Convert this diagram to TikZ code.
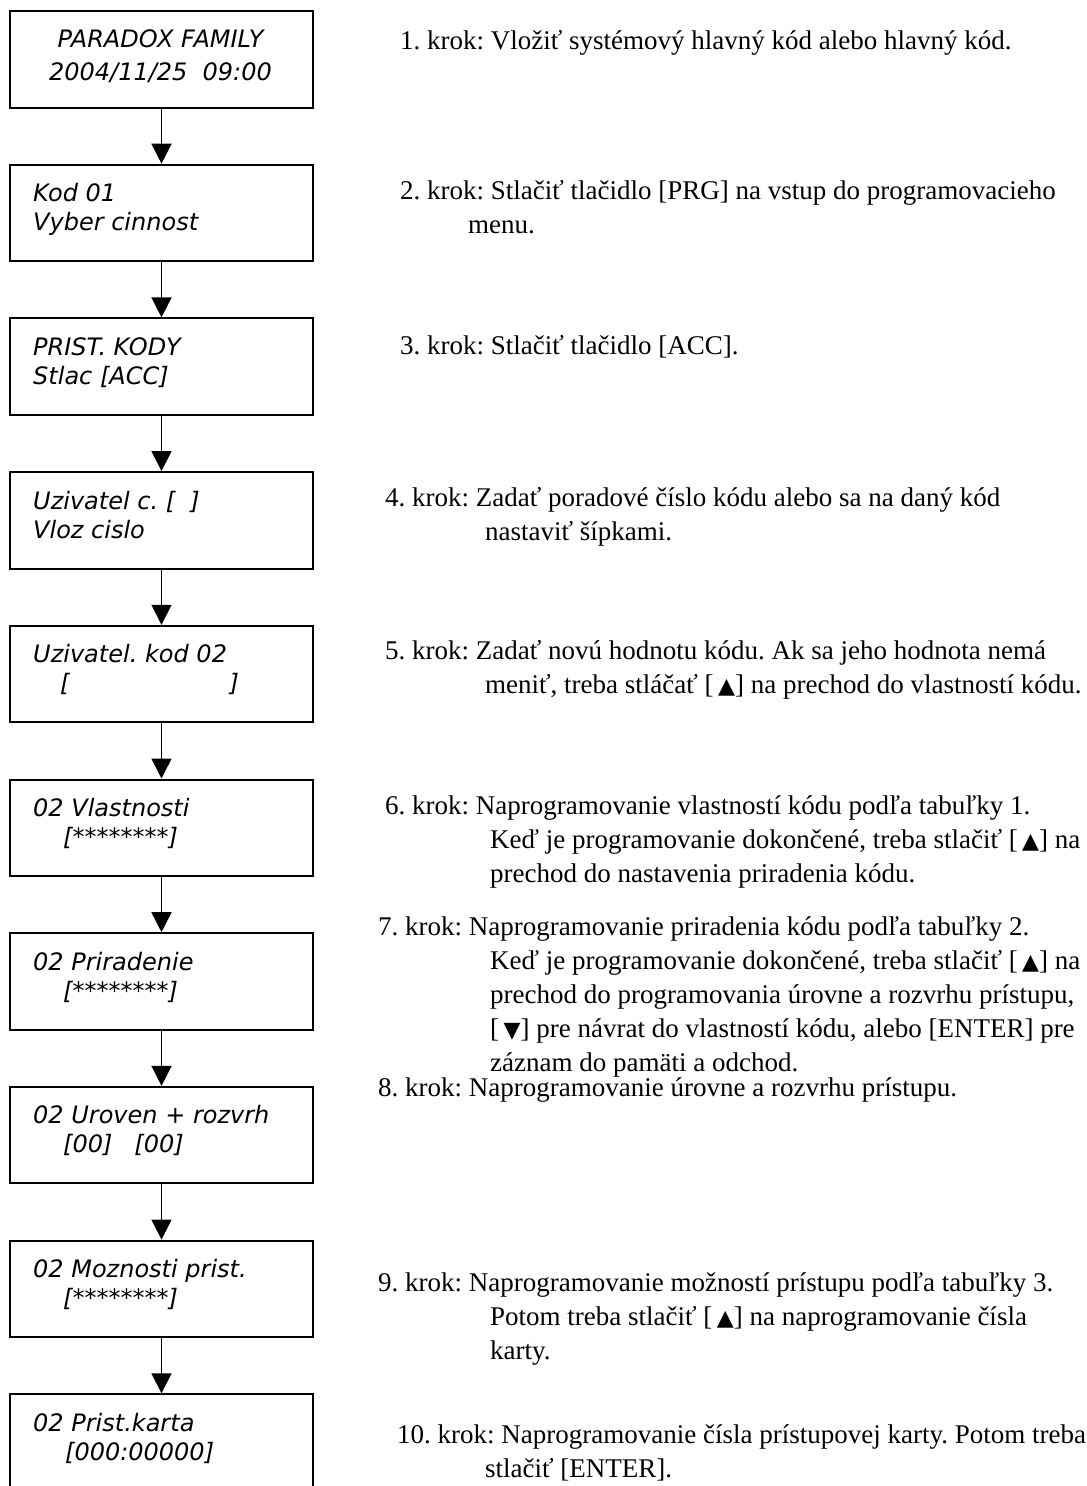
\documentclass[tikz,border=0pt]{standalone}
\usepackage{fontspec}
\setmainfont{Liberation Serif}
\newfontfamily\boxfont{DejaVu Sans}
\newfontfamily\symfont{DejaVu Sans}
\usetikzlibrary{arrows.meta}
\newcommand{\up}{[\,{\symfont\fontsize{22pt}{22pt}\selectfont ▲}]}
\newcommand{\dn}{[\,{\symfont\fontsize{22pt}{22pt}\selectfont ▼}]}
\tikzset{
  lcd/.style={draw=black, line width=2pt, minimum width=303pt, minimum height=96.5pt, inner sep=0pt, anchor=north west},
  lcdtext/.style={anchor=base west, inner sep=0pt, font=\boxfont\itshape\fontsize{24pt}{30pt}\selectfont},
  lcdmid/.style={anchor=base, inner sep=0pt, font=\boxfont\itshape\fontsize{24pt}{30pt}\selectfont},
  steptext/.style={anchor=base west, inner sep=0pt, font=\fontsize{27pt}{34pt}\selectfont},
  flow/.style={line width=1.5pt, -{Triangle[width=20pt,length=20pt]}}
}
\frenchspacing
\begin{document}
\begin{tikzpicture}[x=1pt,y=-1pt]
\useasboundingbox (0,0) rectangle (1087,1486);
\clip (0,0) rectangle (1087,1486);
% boxes
\foreach \i in {0,...,9}{
  \node[lcd] (b\i) at (9,{10+153.7*\i}) {};
}
\foreach \i [evaluate=\i as \j using int(\i+1)] in {0,...,8}{
  \draw[flow] (b\i.south) -- (b\j.north);
}
% box texts
\node[lcdmid] (t0a) at (160.5,47) {PARADOX FAMILY};
\node[lcdmid] (t0b) at (160.5,80) {2004/11/25\ \ 09:00};
\newcommand{\ltop}[1]{10+153.7*#1}
\node[lcdtext] (t1a) at (33,{\ltop{1}+38}) {Kod 01};
\node[lcdtext] (t1b) at (33,{\ltop{1}+67}) {Vyber cinnost};
\node[lcdtext] (t2a) at (33,{\ltop{2}+38}) {PRIST. KODY};
\node[lcdtext] (t2b) at (33,{\ltop{2}+67}) {Stlac [ACC]};
\node[lcdtext] (t3a) at (33,{\ltop{3}+38}) {Uzivatel c. [\ \ ]};
\node[lcdtext] (t3b) at (33,{\ltop{3}+67}) {Vloz cislo};
\node[lcdtext] (t4a) at (33,{\ltop{4}+38}) {Uzivatel. kod 02};
\node[lcdtext] (t4b) at (60,{\ltop{4}+67}) {[\hspace*{160pt}]};
\node[lcdtext] (t5a) at (33,{\ltop{5}+38}) {02 Vlastnosti};
\node[lcdtext] (t5b) at (63,{\ltop{5}+67}) {[********]};
\node[lcdtext] (t6a) at (33,{\ltop{6}+38}) {02 Priradenie};
\node[lcdtext] (t6b) at (63,{\ltop{6}+67}) {[********]};
\node[lcdtext] (t7a) at (33,{\ltop{7}+38}) {02 Uroven + rozvrh};
\node[lcdtext] (t7b) at (63,{\ltop{7}+67}) {[00]\hspace*{22pt}[00]};
\node[lcdtext] (t8a) at (33,{\ltop{8}+38}) {02 Moznosti prist.};
\node[lcdtext] (t8b) at (63,{\ltop{8}+67}) {[********]};
\node[lcdtext] (t9a) at (33,{\ltop{9}+38}) {02 Prist.karta};
\node[lcdtext] (t9b) at (65,{\ltop{9}+67}) {[000:00000]};
% step texts
\node[steptext] (s1) at (400,49) {1. krok: Vložiť systémový hlavný kód alebo hlavný kód.};
\node[steptext] (s2) at (400,199) {2. krok: Stlačiť tlačidlo [PRG] na vstup do programovacieho};
\node[steptext] (s2b) at (468,233) {menu.};
\node[steptext] (s3) at (400,354) {3. krok: Stlačiť tlačidlo [ACC].};
\node[steptext] (s4) at (385,506) {4. krok: Zadať poradové číslo kódu alebo sa na daný kód};
\node[steptext] (s4b) at (485,540) {nastaviť šípkami.};
\node[steptext] (s5) at (385,659) {5. krok: Zadať novú hodnotu kódu. Ak sa jeho hodnota nemá};
\node[steptext] (s5b) at (485,693) {meniť, treba stláčať \up{} na prechod do vlastností kódu.};
\node[steptext] (s6) at (385,814) {6. krok: Naprogramovanie vlastností kódu podľa tabuľky 1.};
\node[steptext] (s6b) at (490,848) {Keď je programovanie dokončené, treba stlačiť \up{} na};
\node[steptext] (s6c) at (490,882) {prechod do nastavenia priradenia kódu.};
\node[steptext] (s7) at (378,935) {7. krok: Naprogramovanie priradenia kódu podľa tabuľky 2.};
\node[steptext] (s7b) at (490,969) {Keď je programovanie dokončené, treba stlačiť \up{} na};
\node[steptext] (s7c) at (490,1003) {prechod do programovania úrovne a rozvrhu prístupu,};
\node[steptext] (s7d) at (490,1037) {\dn{} pre návrat do vlastností kódu, alebo [ENTER] pre};
\node[steptext] (s7e) at (490,1071) {záznam do pamäti a odchod.};
\node[steptext] (s8) at (378,1096) {8. krok: Naprogramovanie úrovne a rozvrhu prístupu.};
\node[steptext] (s9) at (378,1291) {9. krok: Naprogramovanie možností prístupu podľa tabuľky 3.};
\node[steptext] (s9b) at (490,1325) {Potom treba stlačiť \up{} na naprogramovanie čísla};
\node[steptext] (s9c) at (490,1359) {karty.};
\node[steptext] (s10) at (397,1443) {10. krok: Naprogramovanie čísla prístupovej karty. Potom treba};
\node[steptext] (s10b) at (485,1477) {stlačiť [ENTER].};
\end{tikzpicture}
\end{document}
